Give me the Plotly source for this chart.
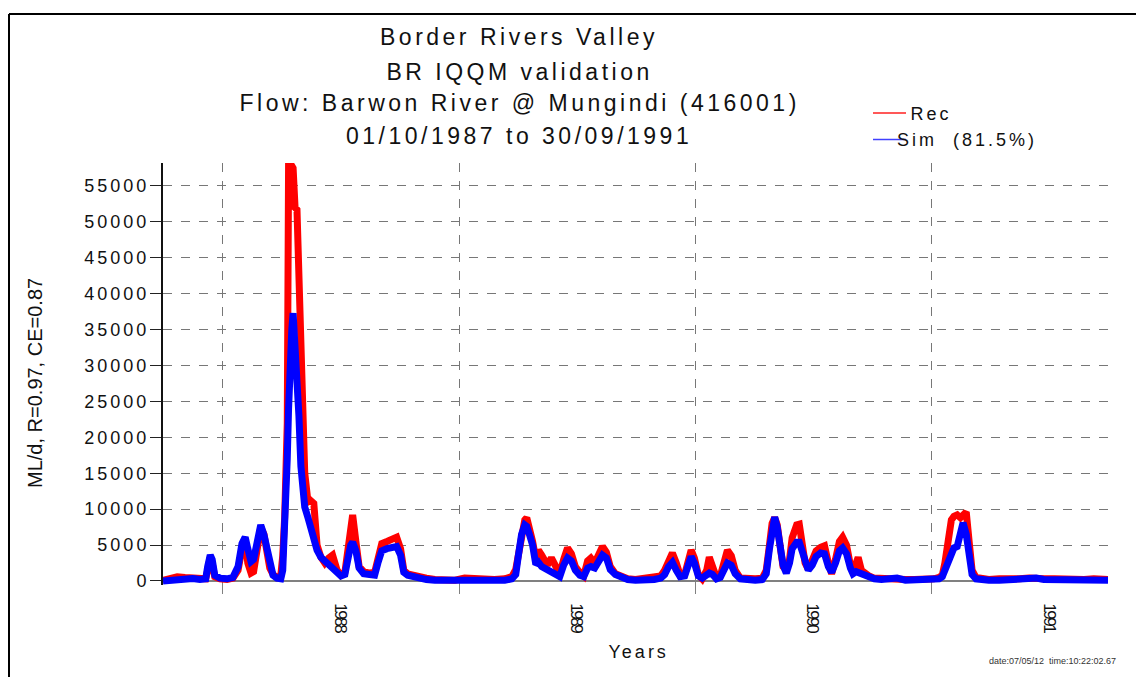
import pandas as pd
import plotly.graph_objects as go

# Daily flow record and IQQM simulation, Barwon River @ Mungindi (416001)
start = pd.Timestamp("1987-10-01")
end = pd.Timestamp("1991-09-30")

# days since 01/10/1987
day_offset = [
    0, 11, 22, 34, 46, 57, 66, 69, 73, 76, 80, 88, 99, 108, 116, 122, 127, 131, 136, 140,
    147, 151, 156, 161, 165, 170, 176, 182, 185, 188, 191, 192, 194, 196, 199, 201, 204, 207, 210, 213, 216,
    219, 224, 228, 233, 238, 244, 250, 256, 262, 269, 275, 281, 286, 290, 293, 298, 303, 310, 319, 327,
    332, 338, 346, 353, 361, 367, 372, 378, 386, 397, 407, 420, 435, 451, 466, 482, 497, 512, 528, 539,
    545, 549, 554, 559, 562, 566, 571, 576, 580, 585, 590, 594, 600, 607, 613, 619, 625, 631, 637, 644,
    650, 656, 661, 667, 673, 679, 685, 691, 699, 707, 718, 730, 744, 759, 769, 775, 781, 787, 793, 799,
    806, 812, 816, 821, 827, 833, 840, 844, 849, 855, 861, 867, 872, 878, 884, 892, 903, 915, 926, 932,
    937, 941, 945, 949, 954, 958, 963, 968, 972, 979, 983, 988, 992, 997, 1003, 1009, 1016, 1022, 1028, 1033,
    1039, 1045, 1050, 1056, 1062, 1066, 1071, 1074, 1079, 1085, 1091, 1099, 1110, 1122, 1134, 1147, 1161, 1176, 1191, 1199,
    1204, 1208, 1213, 1218, 1222, 1227, 1232, 1236, 1241, 1246, 1250, 1256, 1264, 1276, 1292, 1307, 1323, 1338, 1349, 1361,
    1377, 1392, 1408, 1423, 1438, 1460,
]

# recorded flow, ML/d
rec_flow = [
    100, 300, 600, 500, 400, 300, 300, 1500, 3300, 2500, 600, 300, 200, 400, 1500, 4500, 5800, 2500, 1100, 1300,
    5500, 7500, 6500, 4000, 1800, 900, 500, 800, 3500, 8900, 17000, 22000, 57800, 57800, 57800, 57500, 52000, 51700, 42400, 34000, 24000,
    15000, 11000, 11200, 10800, 5000, 3300, 2500, 3200, 3600, 1500, 800, 1200, 5000, 8500, 9200, 5500, 2000, 1300, 1100, 1200,
    3000, 5200, 5500, 5700, 6100, 4500, 1500, 1000, 800, 500, 400, 200, 200, 100, 400, 300, 400, 200, 300, 600,
    1600, 4000, 7000, 8500, 8800, 7500, 5500, 3000, 4300, 3600, 2500, 2200, 3200, 1800, 1000, 3000, 4600, 3800, 2000, 1200,
    700, 2800, 3200, 2500, 3800, 4800, 4000, 2000, 1000, 600, 300, 200, 300, 400, 700, 1500, 3000, 3900, 2500, 800,
    900, 3500, 4300, 3200, 900, 300, 1500, 3300, 1800, 500, 700, 3000, 4300, 3500, 1500, 400, 300, 300, 400, 1500,
    5000, 8000, 8800, 7800, 4500, 2000, 1500, 3000, 6000, 7800, 7900, 5500, 2500, 1600, 2800, 4200, 4700, 4900, 2500, 1000,
    3000, 5500, 6100, 5000, 2200, 1200, 2500, 3300, 1500, 1000, 700, 400, 300, 200, 300, 200, 200, 200, 300, 500,
    800, 2500, 5000, 8500, 9000, 9200, 8800, 9300, 9600, 5000, 1500, 500, 300, 200, 300, 200, 300, 400, 300, 300,
    300, 200, 300, 200, 300, 200,
]

# simulated flow, ML/d
sim_flow = [
    0, 100, 300, 400, 350, 200, 300, 2000, 3600, 3000, 800, 400, 300, 500, 2000, 5200, 6100, 4500, 2700, 3000,
    5800, 7800, 6400, 4300, 2000, 800, 400, 300, 1500, 6700, 12000, 17100, 24000, 32200, 35000, 37300, 33000, 28000, 23000, 16000, 12000,
    10300, 8800, 7500, 5500, 4300, 3300, 2800, 2200, 2000, 1200, 700, 900, 3500, 5000, 5400, 4200, 1800, 1000, 900, 800,
    2500, 4200, 4500, 4700, 4800, 3600, 1200, 800, 600, 400, 200, 100, 100, 0, 100, 100, 100, 100, 100, 300,
    900, 3500, 6500, 7800, 7600, 6500, 5000, 2300, 2600, 2000, 1700, 1500, 1300, 800, 600, 2200, 3200, 2800, 1500, 800,
    600, 1800, 2000, 1800, 2800, 3600, 3200, 1600, 900, 500, 200, 100, 100, 200, 400, 900, 2000, 2600, 1500, 600,
    700, 2500, 3400, 2500, 700, 400, 900, 1100, 900, 300, 500, 1800, 2500, 2200, 1000, 300, 100, 100, 200, 1000,
    4500, 7800, 8900, 7500, 4000, 2200, 1100, 2500, 4500, 5400, 5400, 4000, 2200, 1500, 2200, 3400, 3900, 3800, 2000, 1200,
    2500, 4200, 4600, 3800, 1800, 1000, 1300, 1200, 900, 700, 500, 300, 200, 200, 400, 100, 100, 100, 100, 300,
    600, 1500, 2800, 3800, 4600, 4800, 6500, 8100, 6500, 3000, 900, 300, 200, 100, 100, 200, 200, 300, 400, 200,
    200, 200, 200, 100, 200, 100,
]

assert len(day_offset) == len(rec_flow) == len(sim_flow)

year_labels = ["1988", "1989", "1990", "1991"]
year_mid = ["1988-07-01", "1989-07-01", "1990-07-01", "1991-07-01"]
year_start = ["1988-01-01", "1989-01-01", "1990-01-01", "1991-01-01"]
y_ticks = list(range(0, 55001, 5000))
y_tick_text = [str(v) for v in y_ticks]

title_lines = [
    "Border Rivers Valley",
    "BR IQQM validation",
    "Flow: Barwon River @ Mungindi (416001)",
    "01/10/1987 to 30/09/1991",
]
series_names = ["Rec", "Sim  (81.5%)"]
series_colors = ["#ff0000", "#0000ff"]
key_colors = ["#ff2020", "#4040ff"]
y_title = "ML/d, R=0.97, CE=0.87"
x_title = "Years"
stamp = "date:07/05/12  time:10:22:02.67"

dates = start + pd.to_timedelta(day_offset, unit="D")

FONT = "Liberation Sans, Arial, sans-serif"
W, H = 1136, 677
ML, MR, MT, MB = 163, 28, 163, 92
Y_MIN, Y_MAX = -560, 58200


def px_x(px):
    return (px - ML) / (W - ML - MR)


def px_y(py):
    return (H - MB - py) / (H - MT - MB)


fig = go.Figure()
for name, flow, color in zip(series_names, [rec_flow, sim_flow], series_colors):
    fig.add_trace(go.Scatter(x=dates, y=flow, mode="lines", name=name, showlegend=False,
                             line=dict(color=color, width=7)))

annotations = []
for text, cy in zip(title_lines, [37.5, 71.5, 103.5, 136]):
    annotations.append(dict(text=text, x=px_x(519), y=px_y(cy), xref="paper", yref="paper",
                            xanchor="center", yanchor="middle", showarrow=False,
                            font=dict(size=23, color="#111")))
annotations.append(dict(text=x_title, x=px_x(638), y=px_y(652), xref="paper", yref="paper",
                        xanchor="center", yanchor="middle", showarrow=False,
                        font=dict(size=18, color="#111")))

# legend keys: thin line plus series name
shapes = []
for name, color, cy in zip(series_names, key_colors, [113.5, 140]):
    annotations.append(dict(text=name, x=px_x(913), y=px_y(cy), xref="paper", yref="paper",
                            xanchor="left", yanchor="middle", showarrow=False,
                            font=dict(size=18, color="#111")))
    shapes.append(dict(type="line", xref="paper", yref="paper", x0=px_x(873), x1=px_x(906),
                       y0=px_y(cy - 0.5), y1=px_y(cy - 0.5), line=dict(color=color, width=1.5)))

annotations.append(dict(text=y_title, x=px_x(35), y=px_y(383), xref="paper", yref="paper",
                        xanchor="center", yanchor="middle", showarrow=False, textangle=-90,
                        font=dict(size=20, color="#111")))
annotations.append(dict(text=stamp, x=px_x(1118), y=px_y(661), xref="paper", yref="paper",
                        xanchor="right", yanchor="middle", showarrow=False,
                        font=dict(size=9, color="#333")))

# page frame
shapes += [
    dict(type="line", xref="paper", yref="paper", x0=px_x(9), x1=px_x(9), y0=px_y(14), y1=px_y(680),
         line=dict(color="black", width=2)),
    dict(type="line", xref="paper", yref="paper", x0=px_x(9), x1=px_x(1140), y0=px_y(14), y1=px_y(14),
         line=dict(color="black", width=2)),
]

fig.update_layout(
    width=W, height=H,
    margin=dict(l=ML, r=MR, t=MT, b=MB, autoexpand=False),
    paper_bgcolor="white", plot_bgcolor="white",
    font=dict(family=FONT, color="#111"),
    annotations=annotations, shapes=shapes,
    showlegend=False,
    xaxis=dict(
        type="date", range=[start, end], anchor="free",
        position=(0 - Y_MIN) / (Y_MAX - Y_MIN),
        showline=True, linecolor="#808080", linewidth=2, zeroline=False,
        tickmode="array", tickvals=year_mid, ticktext=year_labels, tickangle=90,
        ticks="", ticklabelstandoff=18, tickfont=dict(size=17, color="#111"),
        showgrid=False, layer="below traces",
        minor=dict(tickmode="array", tickvals=year_start, ticks="outside", ticklen=12,
                   tickcolor="#808080", tickwidth=1, showgrid=True, gridcolor="#777",
                   griddash="dash", gridwidth=1),
    ),
    yaxis=dict(
        range=[Y_MIN, Y_MAX], tickmode="array", tickvals=y_ticks, ticktext=y_tick_text,
        ticks="outside", ticklen=11, tickcolor="#222", tickwidth=1,
        showline=True, linecolor="#111", linewidth=2, zeroline=False,
        showgrid=True, gridcolor="#777", griddash="dash", gridwidth=1,
        tickfont=dict(size=18, color="#111"), ticklabelstandoff=-3, layer="below traces",
    ),
)

# widen the lettering of the titles, legend text and tick labels
post = """
var gd = document.getElementById('{plot_id}');
function sp(sel, v) { gd.querySelectorAll(sel).forEach(function (t) { t.style.letterSpacing = v; }); }
[0, 1, 2, 3].forEach(function (i) { sp('.annotation[data-index="' + i + '"] text', '3.5px'); });
[4, 5, 6].forEach(function (i) { sp('.annotation[data-index="' + i + '"] text', '3px'); });
sp('.ytick text', '3px');
sp('.xtick text', '-2.5px');
"""

fig.write_html("out.html", post_script=post)
